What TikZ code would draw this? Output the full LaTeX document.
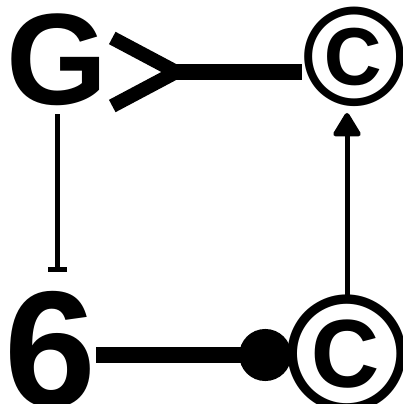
\documentclass[tikz,border=0pt]{standalone}
\usepackage{fontspec}
\setmainfont{Liberation Sans}
\usetikzlibrary{arrows.meta}
\tikzset{
  glyph/.style={inner sep=0pt, font=\fontsize{#1}{#1}\selectfont\bfseries},
  heavy/.style={line width=16pt},
  slim/.style={line width=#1},
}

\begin{document}
\begin{tikzpicture}[x=1pt,y=-1pt]
  % page frame: 402 x 404, y runs downwards
  \useasboundingbox (0,0) rectangle (402,404);
  \node[glyph=130pt] (G) at (57.5,60) {G};
  \node[glyph=141pt] (topC) at (354,57) {\textcopyright};
  \node[glyph=165pt] (six) at (50,350) {6};
  \node[glyph=167pt] (botC) at (347,354) {\textcopyright};
  % top row
  \coordinate (gy) at ([xshift=-3pt,yshift=-12pt]G.east);
  \draw[heavy, {Straight Barb[reversed,length=64pt,width=68pt,line width=14pt]}-] (gy) -- (gy -| topC.west);
  % bottom row
  \coordinate (sy) at ([yshift=-5pt]six.east);
  \draw[heavy, -{Circle[length=52pt]}, shorten >=-6pt] (sy) -- (sy -| botC.west);
  % columns
  \draw[slim=5pt, -{Bar[width=19pt]}, shorten <=8pt, shorten >=19pt] (G.south) -- (G.south |- six.north);
  \draw[slim=5pt, -{Triangle[length=26pt,width=30pt,round]}, shorten >=6pt] (botC.north) -- (botC.north |- topC.south);
\end{tikzpicture}
\end{document}
